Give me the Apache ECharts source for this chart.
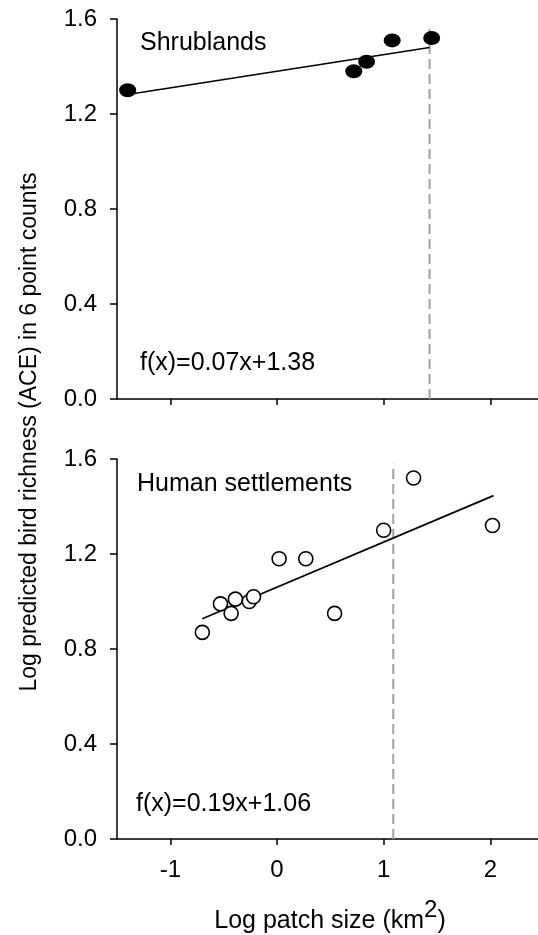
<!DOCTYPE html>
<html>
<head>
<meta charset="utf-8">
<script src="https://cdn.jsdelivr.net/npm/echarts@6/dist/echarts.min.js"></script>
<style>
  html, body { margin: 0; padding: 0; background: #fff; }
  #chart { width: 538px; height: 935px; }
</style>
</head>
<body>
<div id="chart"></div>
<script>
// Shrublands patches: log patch size vs log predicted richness
const shrubX = [-1.40, 0.72, 0.84, 1.08, 1.45];
const shrubY = [1.30, 1.38, 1.42, 1.51, 1.52];
// Human settlement patches
const settleX = [-0.70, -0.53, -0.43, -0.39, -0.26, -0.22, 0.02, 0.27, 0.54, 1.00, 1.28, 2.02];
const settleY = [0.87, 0.99, 0.95, 1.01, 1.00, 1.02, 1.18, 1.18, 0.95, 1.30, 1.52, 1.32];

// Fitted lines (slope, intercept) and the x range they cover
const shrubFit = [0.07, 1.38];
const shrubFitRange = [-1.40, 1.43];
const settleFit = [0.19, 1.06];
const settleFitRange = [-0.70, 2.03];

// Threshold patch sizes (dashed verticals) and their heights
const shrubThreshold = [1.43, 1.565];
const settleThreshold = [1.09, 1.58];

const xTicks = [-1, 0, 1, 2];
const yTicks = [0, 0.4, 0.8, 1.2, 1.6];

const panelTitles = ['Shrublands', 'Human settlements'];
const equations = ['f(x)=0.07x+1.38', 'f(x)=0.19x+1.06'];

const FONT = '"Liberation Sans", Arial, sans-serif';

function fitLine(fit, range) {
  return range.map(x => [x, fit[0] * x + fit[1]]);
}

const grids = [
  { left: 117, top: 19, width: 426.67, height: 380, outerBoundsMode: 'none', containLabel: false },
  { left: 117, top: 459, width: 426.67, height: 380, outerBoundsMode: 'none', containLabel: false }
];

function xAxis(i, showLabels) {
  return {
    type: 'value', gridIndex: i, min: -1.5, max: 2.5,
    axisLine: { show: true, onZero: false, lineStyle: { color: '#000', width: 1.5 } },
    axisTick: { show: true, inside: false, length: 6, customValues: xTicks, lineStyle: { color: '#000', width: 1.5 } },
    axisLabel: { show: showLabels, customValues: xTicks, margin: 19, color: '#000', fontSize: 24, fontFamily: FONT },
    splitLine: { show: false }
  };
}
function yAxis(i) {
  return {
    type: 'value', gridIndex: i, min: 0, max: 1.6, interval: 0.4,
    axisLine: { show: true, onZero: false, lineStyle: { color: '#000', width: 1.5 } },
    axisTick: { show: true, inside: false, length: 7, lineStyle: { color: '#000', width: 1.5 } },
    axisLabel: { margin: 20, color: '#000', fontSize: 24, fontFamily: FONT, formatter: v => v.toFixed(1) },
    splitLine: { show: false }
  };
}

const dashStyle = { color: '#a0a0a0', width: 2, type: [10, 5] };

const option = {
  backgroundColor: '#fff',
  animation: false,
  grid: grids,
  xAxis: [xAxis(0, false), xAxis(1, true)],
  yAxis: [yAxis(0), yAxis(1)],
  series: [
    { type: 'line', xAxisIndex: 0, yAxisIndex: 0, symbol: 'none', silent: true,
      data: [[shrubThreshold[0], 0], [shrubThreshold[0], shrubThreshold[1]]], lineStyle: dashStyle, z: 1 },
    { type: 'line', xAxisIndex: 0, yAxisIndex: 0, symbol: 'none',
      data: fitLine(shrubFit, shrubFitRange), lineStyle: { color: '#000', width: 1.7 }, z: 2 },
    { type: 'scatter', xAxisIndex: 0, yAxisIndex: 0, symbol: 'circle', symbolSize: [17, 14],
      data: shrubX.map((x, k) => [x, shrubY[k]]), itemStyle: { color: '#000', opacity: 1 }, z: 3 },

    { type: 'line', xAxisIndex: 1, yAxisIndex: 1, symbol: 'none', silent: true,
      data: [[settleThreshold[0], 0], [settleThreshold[0], settleThreshold[1]]], lineStyle: dashStyle, z: 1 },
    { type: 'line', xAxisIndex: 1, yAxisIndex: 1, symbol: 'none',
      data: fitLine(settleFit, settleFitRange), lineStyle: { color: '#000', width: 1.7 }, z: 2 },
    { type: 'scatter', xAxisIndex: 1, yAxisIndex: 1, symbol: 'circle', symbolSize: 14,
      data: settleX.map((x, k) => [x, settleY[k]]),
      itemStyle: { color: '#fff', borderColor: '#000', borderWidth: 1.6, opacity: 1 }, z: 3 }
  ],
  graphic: [
    { type: 'text', left: 140, top: 31, style: { text: panelTitles[0], fill: '#000', font: '25px ' + FONT } },
    { type: 'text', left: 140, top: 351, style: { text: equations[0], fill: '#000', font: '25px ' + FONT } },
    { type: 'text', left: 137, top: 472, style: { text: panelTitles[1], fill: '#000', font: '25px ' + FONT } },
    { type: 'text', left: 136, top: 792, style: { text: equations[1], fill: '#000', font: '25px ' + FONT } },
    { type: 'text', x: 30, y: 432, rotation: Math.PI / 2,
      style: { text: 'Log predicted bird richness (ACE) in 6 point counts', fill: '#000',
               font: '23px ' + FONT, align: 'center', verticalAlign: 'middle' } },
    { type: 'text', x: 330, y: 916,
      style: {
        text: '{a|Log patch size (km}{s|2}{a|)}', align: 'center', verticalAlign: 'middle',
        rich: {
          a: { fontSize: 25, fontFamily: FONT, fill: '#000', color: '#000', verticalAlign: 'bottom' },
          s: { fontSize: 24, fontFamily: FONT, fill: '#000', color: '#000', verticalAlign: 'bottom', padding: [0, 0, 12, 0] }
        }
      } }
  ]
};

const chart = echarts.init(document.getElementById('chart'), null, { renderer: 'canvas' });
chart.setOption(option);
</script>
</body>
</html>
